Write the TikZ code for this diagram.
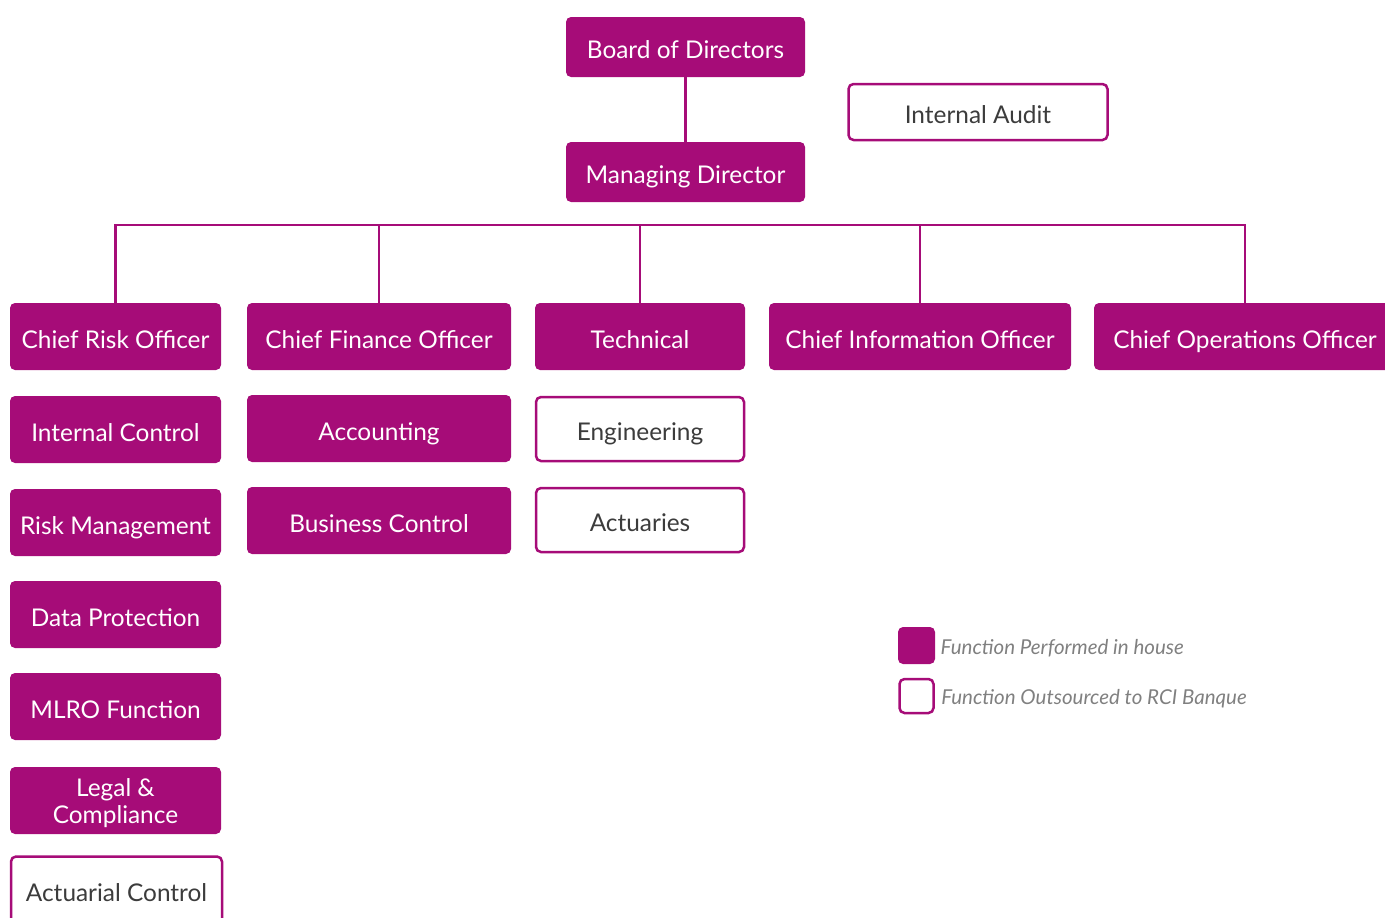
\documentclass[tikz,border=0pt]{standalone}
\usepackage{fontspec}
\setmainfont{Lato}
\usetikzlibrary{positioning,calc}
\definecolor{rcipurple}{RGB}{166,12,120}
\definecolor{rcigray}{RGB}{60,60,60}
\tikzset{
  box/.style={rounded corners=5pt,minimum height=67pt,align=center,
    inner sep=0pt,text height=23pt,text depth=0pt,
    font=\fontsize{24.4}{27}\selectfont},
  inhouse/.style={box,fill=rcipurple,text=white},
  outsourced/.style={box,draw=rcipurple,line width=2.5pt,fill=white,text=rcigray},
  link/.style={draw=rcipurple,line width=2.5pt},
  legendtext/.style={right,text=gray,font=\fontsize{20.5}{22}\selectfont\itshape}
}

\begin{document}
\begin{tikzpicture}[x=1pt,y=-1pt]
    \useasboundingbox (0,0) rectangle (1385,918);
    \clip (0,0) rectangle (1385,918);
    % top of the chart
    \node[inhouse,minimum width=239pt,minimum height=60pt] (board) at (685.5,47) {Board of Directors};
    \node[inhouse,minimum width=239pt,minimum height=60pt] (md) at (685.5,172) {Managing Director};
    \node[outsourced,minimum width=259pt,minimum height=56pt] (audit) at (978,112) {Internal Audit};
    \draw[link] (board) -- (md);
    % chiefs
    \node[inhouse,minimum width=211pt] (cro) at (115.5,336.5) {Chief Risk Officer};
    \node[inhouse,minimum width=264pt] (cfo) at (379,336.5) {Chief Finance Officer};
    \node[inhouse,minimum width=210pt] (tech) at (640,336.5) {Technical};
    \node[inhouse,minimum width=302pt] (cio) at (920,336.5) {Chief Information Officer};
    \node[inhouse,minimum width=302pt] (coo) at (1245,336.5) {Chief Operations Officer};
    \coordinate (bus) at (0,225);
    \draw[link] (cro.north) |- (coo.north |- bus) -- (coo.north);
    \foreach \n in {cfo,tech,cio}
      \draw[link] (\n.north) -- (\n.north |- bus);
    % risk column
    \node[inhouse,minimum width=211pt] (intctrl) at (115.5,429.5) {Internal Control};
    \node[inhouse,minimum width=211pt] (riskmgmt) at (115.5,522.5) {Risk Management};
    \node[inhouse,minimum width=211pt] (dataprot) at (115.5,614.5) {Data Protection};
    \node[inhouse,minimum width=211pt] (mlro) at (115.5,706.5) {MLRO Function};
    \node[inhouse,minimum width=211pt,text height=46pt] (legal) at (115.5,800.5) {Legal \&\\ Compliance};
    \node[outsourced,minimum width=211pt] (actctrl) at (116.5,890) {Actuarial Control};
    % finance column
    \node[inhouse,minimum width=264pt] (acc) at (379,428.5) {Accounting};
    \node[inhouse,minimum width=264pt] (busctrl) at (379,520.5) {Business Control};
    % technical column
    \node[outsourced,minimum width=208pt,minimum height=64pt] (eng) at (640,429) {Engineering};
    \node[outsourced,minimum width=208pt,minimum height=64pt] (act) at (640,520) {Actuaries};
    % legend
    \node[inhouse,minimum width=37pt,minimum height=37pt] (keyin) at (916.5,645.5) {};
    \node[outsourced,minimum width=34pt,minimum height=34pt] (keyout) at (916.5,696) {};
    \node[legendtext,yshift=-3pt] at ([xshift=2pt]keyin.east) {Function Performed in house};
    \node[legendtext,yshift=-3pt] at ([xshift=3pt]keyout.east) {Function Outsourced to RCI Banque};
\end{tikzpicture}
\end{document}
